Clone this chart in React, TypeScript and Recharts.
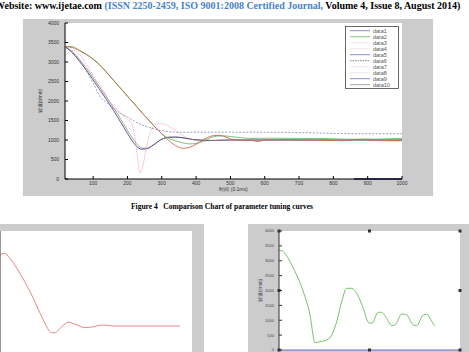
import React from 'react';
import { ComposedChart, Line, XAxis, YAxis, CartesianGrid, Scatter } from 'recharts';

// ---------- main figure data ----------
const mainXTicks = [100, 200, 300, 400, 500, 600, 700, 800, 900, 1000];
const mainYTicks = [0, 500, 1000, 1500, 2000, 2500, 3000, 3500, 4000];

const data1X = [20, 40, 60, 80, 100, 120, 140, 160, 180, 200, 215, 230, 242, 255, 270, 285, 300, 320, 340, 360, 380, 400, 450, 500, 600, 700, 800, 900, 1000];
const data1Y = [3380, 3230, 3020, 2790, 2540, 2280, 2020, 1750, 1460, 1170, 960, 810, 765, 775, 840, 940, 1020, 1070, 1075, 1060, 1030, 1005, 990, 1000, 1000, 1000, 1000, 1000, 1000];

const data2X = [20, 40, 60, 80, 100, 125, 150, 175, 200, 225, 250, 275, 300, 320, 340, 360, 380, 400, 420, 440, 460, 480, 500, 530, 560, 600, 650, 700, 750, 800, 850, 900, 950, 1000];
const data2Y = [3400, 3390, 3300, 3200, 3080, 2880, 2630, 2380, 2130, 1880, 1630, 1390, 1160, 1040, 980, 930, 900, 910, 970, 1050, 1100, 1105, 1090, 1060, 1040, 1045, 1045, 1040, 1040, 1030, 1020, 1020, 1030, 1040];

const data3X = [20, 40, 60, 80, 100, 125, 150, 175, 200, 225, 250, 275, 300, 320, 340, 362, 380, 400, 420, 440, 460, 480, 500, 530, 560, 580, 600, 650, 700, 750, 800, 830, 860, 900, 930, 960, 1000];
const data3Y = [3390, 3370, 3290, 3190, 3070, 2870, 2620, 2370, 2120, 1870, 1620, 1380, 1160, 990, 860, 785, 810, 890, 1000, 1090, 1120, 1100, 1030, 995, 990, 960, 1000, 1015, 1000, 995, 990, 980, 1010, 1020, 985, 980, 980];

const data4X = [20, 30, 43, 60, 80, 100, 125, 150, 175, 200, 212, 222, 230, 237, 245, 255, 265, 280, 300, 320, 340, 360, 380, 400, 420, 450, 500, 600, 700, 800, 900, 1000];
const data4Y = [3170, 3250, 3300, 3200, 2950, 2650, 2330, 1980, 1730, 1540, 1440, 1050, 500, 150, 350, 800, 1150, 1400, 1420, 1350, 1240, 1120, 1040, 990, 960, 990, 1000, 1000, 1000, 1000, 1000, 1000];

const data5X = [860, 1000];
const data5Y = [0, 0];

const data6X = [20, 40, 60, 80, 100, 120, 140, 160, 180, 200, 225, 250, 275, 300, 325, 350, 400, 500, 600, 700, 800, 900, 1000];
const data6Y = [3380, 3250, 3040, 2780, 2460, 2120, 1950, 1800, 1680, 1590, 1460, 1360, 1290, 1240, 1210, 1200, 1200, 1200, 1200, 1190, 1170, 1160, 1160];

const data10X = [20, 40, 60, 80, 100, 120, 140, 160, 180, 200, 215, 230, 245, 260, 275, 290, 305, 325, 345, 365, 385, 400, 450, 500, 600, 700, 800, 900, 1000];
const data10Y = [3380, 3260, 3070, 2850, 2600, 2340, 2080, 1820, 1540, 1250, 1040, 870, 790, 790, 860, 960, 1040, 1075, 1070, 1050, 1020, 1000, 985, 1000, 1000, 1000, 1000, 1000, 1000];

const legendNames = ['data1', 'data2', 'data3', 'data4', 'data5', 'data6', 'data7', 'data8', 'data9', 'data10'];

// ---------- bottom-left figure data ----------
const leftXTicks = [100, 200, 300, 400, 500, 600];
const leftYTicks = [0, 500, 1000, 1500, 2000, 2500, 3000, 3500, 4000];
const leftX = [0, 13, 32, 54, 107, 139, 166, 176, 198, 219, 241, 273, 299, 331, 364, 420, 500, 577];
const leftY = [3240, 3294, 3136, 2820, 1870, 1184, 782, 782, 972, 1111, 1047, 940, 972, 1025, 994, 994, 994, 994];

// ---------- bottom-right figure data ----------
const rightXTicks = [0, 200, 400, 600, 800, 1000, 1200, 1400];
const rightYTicks = [0, 500, 1000, 1500, 2000, 2500, 3000, 3500, 4000];
const rightX = [0, 33, 111, 188, 240, 278, 317, 369, 408, 446, 485, 524, 562, 601, 652, 691, 717, 768, 794, 833, 872, 897, 950, 988, 1039, 1064, 1116, 1144, 1183, 1203];
const rightY = [3361, 3305, 2745, 1960, 1176, 250, 281, 336, 504, 950, 1625, 2073, 2073, 1905, 1400, 930, 896, 1266, 1266, 1064, 818, 840, 1210, 1176, 840, 818, 1176, 1199, 950, 818];
const handleX = [0, 700, 1400, 1400, 1400, 700, 0, 0];
const handleY = [4000, 4000, 4000, 2000, 0, 0, 0, 2000];
const baseX = [0, 1400];
const baseY = [0, 0];

const pts = (xs: number[], ys: number[]) => xs.map((x, i) => ({ x, y: ys[i] }));

const SANS = '"Liberation Sans", Arial, sans-serif';
const SERIF = '"Liberation Serif", "Times New Roman", serif';

const legendColors = ['#6f6fc4', '#6cb36c', '#f3dede', '#f3dede', '#6f6fc4', '#666', '#f3dede', '#f3dede', '#6f6fc4', '#8a8a8a'];
const legendDashes = [undefined, undefined, undefined, undefined, undefined, '1.5 1', undefined, undefined, undefined, undefined];

const LegendBox = () => (
  <svg width={54} height={63} style={{ display: 'block', position: 'absolute', left: 322, top: 7 }}>
    <rect x={0.5} y={0.5} width={53} height={62} fill="#fff" stroke="#444" strokeWidth={0.8} />
    {legendNames.map((n, i) => (
      <g key={n}>
        <line x1={5} x2={25} y1={4.7 + 6 * i} y2={4.7 + 6 * i} stroke={legendColors[i]} strokeWidth={0.8} strokeDasharray={legendDashes[i]} />
        <text x={28} y={4.7 + 6 * i} dy="0.35em" fontSize={5.5} fill="#555" fontFamily={SANS}>{n}</text>
      </g>
    ))}
  </svg>
);

const tickStyle = { fontSize: 5, fill: '#333', fontFamily: SANS };

export default function App() {
  return (
    <div style={{ position: 'absolute', left: 0, top: 0, width: 469, height: 352, overflow: 'hidden', background: '#fff' }}>
      {/* header */}
      <div style={{ position: 'absolute', left: -5, top: 0, whiteSpace: 'nowrap', fontFamily: SERIF, fontWeight: 'bold', fontSize: 10, color: '#000', lineHeight: '11px' }}>
        Website: www.ijetae.com <span style={{ color: '#4a82c8' }}>(ISSN 2250-2459, ISO 9001:2008 Certified Journal,</span> Volume 4, Issue 8, August 2014)
      </div>

      {/* main figure */}
      <div style={{ position: 'absolute', left: 23, top: 19, width: 410, height: 177, background: '#cccccc' }}>
        <ComposedChart width={410} height={177} margin={{ top: 4, right: 31, bottom: 0, left: 0 }}>
          <CartesianGrid horizontal={false} vertical={false} fill="#ffffff" fillOpacity={1} />
          <XAxis dataKey="x" type="number" domain={[18, 1000]} ticks={mainXTicks} interval={0} allowDataOverflow
            tickSize={-3} tickMargin={5} height={17} stroke="#000" tick={tickStyle}
            label={{ content: (p: any) => (
              <text x={p.viewBox.x + p.viewBox.width / 2} y={p.viewBox.y + 12} textAnchor="middle" fontSize={5} fill="#333" fontFamily={SANS}>时间 (0.1ms)</text>
            ) }} />
          <XAxis xAxisId="t" orientation="top" dataKey="x" type="number" domain={[18, 1000]} ticks={mainXTicks} interval={0}
            tickSize={-3} height={0} stroke="#000" tick={false} />
          <YAxis type="number" domain={[0, 4000]} ticks={mainYTicks} interval={0} tickSize={-3} tickMargin={9} width={42}
            stroke="#000" tick={tickStyle}
            label={{ content: (p: any) => (
              <text x={p.viewBox.x + 19} y={p.viewBox.y + p.viewBox.height / 2} textAnchor="middle" fontSize={5} fill="#333" fontFamily={SANS}
                transform={`rotate(-90 ${p.viewBox.x + 19} ${p.viewBox.y + p.viewBox.height / 2})`}>转速(r/min)</text>
            ) }} />
          <YAxis yAxisId="r" orientation="right" type="number" domain={[0, 4000]} ticks={mainYTicks} interval={0} tickSize={-3} width={0}
            stroke="#000" tick={false} />
          <Line data={pts(data6X, data6Y)} dataKey="y" type="monotone" stroke="#7c86b4" strokeWidth={0.8} strokeDasharray="2 1.5" dot={false} isAnimationActive={false} />
          <Line data={pts(data10X, data10Y)} dataKey="y" type="monotone" stroke="#8c8c8c" strokeWidth={0.8} dot={false} isAnimationActive={false} />
          <Line data={pts(data1X, data1Y)} dataKey="y" type="monotone" stroke="#3a3a7a" strokeWidth={0.8} dot={false} isAnimationActive={false} />
          <Line data={pts(data2X, data2Y)} dataKey="y" type="monotone" stroke="#5fae5f" strokeWidth={0.8} dot={false} isAnimationActive={false} />
          <Line data={pts(data3X, data3Y)} dataKey="y" type="monotone" stroke="#cc5a3a" strokeWidth={0.8} dot={false} isAnimationActive={false} />
          <Line data={pts(data4X, data4Y)} dataKey="y" type="monotone" stroke="#e88896" strokeWidth={0.8} strokeDasharray="1 1" dot={false} isAnimationActive={false} />
          <Line data={pts(data5X, data5Y)} dataKey="y" type="linear" stroke="#1c1c70" strokeWidth={1.4} dot={false} isAnimationActive={false} />
        </ComposedChart>
        <LegendBox />
      </div>

      {/* caption */}
      <div style={{ position: 'absolute', left: 131, top: 202, whiteSpace: 'pre', fontFamily: SERIF, fontWeight: 'bold', fontSize: 7.5, color: '#000', lineHeight: '10px' }}>
        {'Figure 4   Comparison Chart of parameter tuning curves'}
      </div>

      {/* bottom-left figure */}
      <div style={{ position: 'absolute', left: -30, top: 224, width: 234, height: 140, background: '#cccccc' }}>
        <ComposedChart width={234} height={140} margin={{ top: 7, right: 12, bottom: 6.6, left: 0 }}>
          <CartesianGrid horizontal={false} vertical={false} fill="#ffffff" fillOpacity={1} />
          <XAxis dataKey="x" type="number" domain={[0, 616]} ticks={leftXTicks} hide />
          <XAxis xAxisId="t" orientation="top" dataKey="x" type="number" domain={[0, 616]} ticks={leftXTicks} interval={0}
            tickSize={-3} height={0} stroke="#333" tick={false} />
          <YAxis type="number" domain={[0, 4000]} ticks={leftYTicks} interval={0} tickSize={-3} width={30} stroke="#333" tick={false} />
          <YAxis yAxisId="r" orientation="right" type="number" domain={[0, 4000]} ticks={leftYTicks} interval={0} tickSize={-3} width={0}
            stroke="#333" tick={false} />
          <Line data={pts(leftX, leftY)} dataKey="y" type="monotone" stroke="#e26a6a" strokeWidth={0.8} dot={false} isAnimationActive={false} />
        </ComposedChart>
      </div>

      {/* bottom-right figure */}
      <div style={{ position: 'absolute', left: 248, top: 224, width: 221, height: 128, background: '#cccccc' }}>
        <ComposedChart width={221} height={128} margin={{ top: 7, right: 9, bottom: 2, left: 0 }}>
          <CartesianGrid horizontal={false} vertical={false} fill="#ffffff" fillOpacity={1} />
          <XAxis dataKey="x" type="number" domain={[0, 1400]} ticks={rightXTicks} interval={0} tickSize={-3} height={0}
            stroke="#555" tick={false} />
          <XAxis xAxisId="t" orientation="top" dataKey="x" type="number" domain={[0, 1400]} ticks={rightXTicks} interval={0}
            tickSize={-3} height={0} stroke="#333" tick={false} />
          <YAxis type="number" domain={[0, 4000]} ticks={rightYTicks} interval={0} tickSize={-3} tickMargin={8} width={31}
            stroke="#333" tick={{ fontSize: 4, fill: '#444', fontFamily: SANS }}
            label={{ content: (p: any) => (
              <text x={p.viewBox.x + 14} y={p.viewBox.y + p.viewBox.height / 2} textAnchor="middle" fontSize={4.5} fill="#444" fontFamily={SANS}
                transform={`rotate(-90 ${p.viewBox.x + 14} ${p.viewBox.y + p.viewBox.height / 2})`}>转速(r/min)</text>
            ) }} />
          <YAxis yAxisId="r" orientation="right" type="number" domain={[0, 4000]} ticks={rightYTicks} interval={0} tickSize={-3} width={0}
            stroke="#333" tick={false} />
          <Line data={pts(baseX, baseY)} dataKey="y" type="linear" stroke="#6a6ac8" strokeWidth={1} dot={false} isAnimationActive={false} />
          <Line data={pts(rightX, rightY)} dataKey="y" type="monotone" stroke="#66b856" strokeWidth={0.9} dot={false} isAnimationActive={false} />
          <Scatter data={pts(handleX, handleY)} dataKey="y" isAnimationActive={false}
            shape={(p: any) => <rect x={p.cx - 1.5} y={p.cy - 1.5} width={3} height={3} fill="#333" />} />
        </ComposedChart>
      </div>
    </div>
  );
}
